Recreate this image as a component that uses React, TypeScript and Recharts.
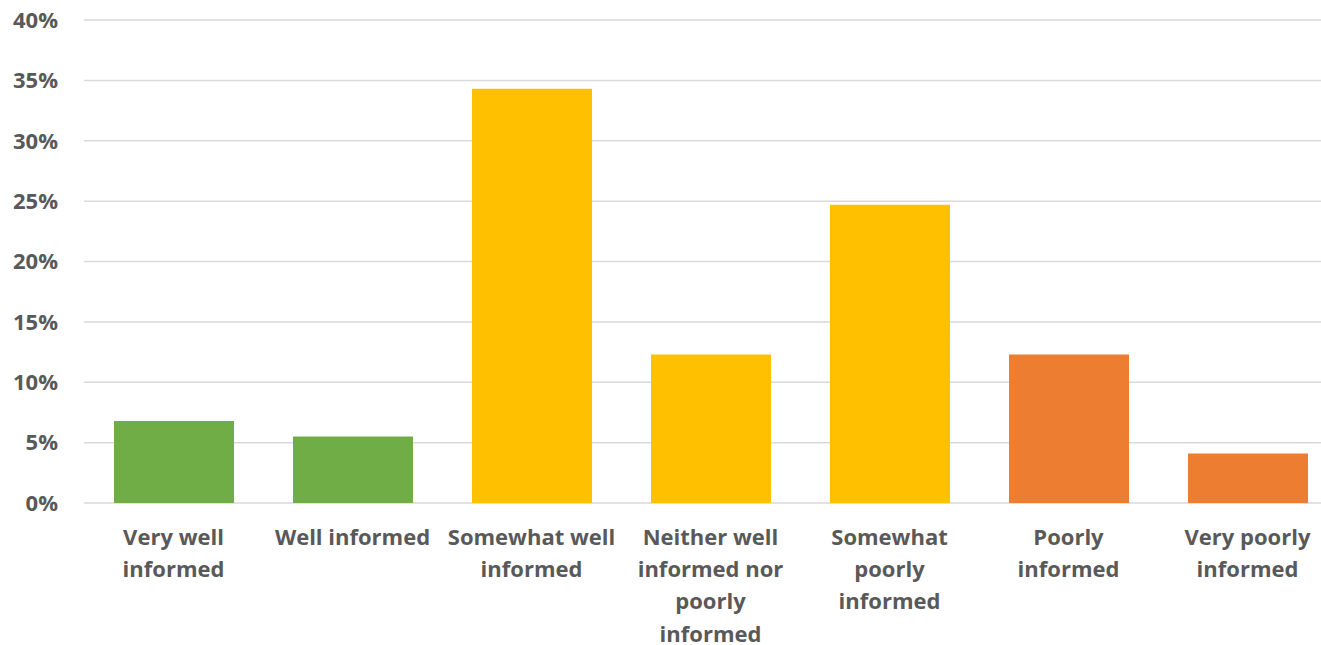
import { Bar, BarChart, CartesianGrid, Cell, XAxis, YAxis } from 'recharts';

const CATEGORIES = [
  'Very well informed',
  'Well informed',
  'Somewhat well informed',
  'Neither well informed nor poorly informed',
  'Somewhat poorly informed',
  'Poorly informed',
  'Very poorly informed'
];

// how Excel wrapped each label
const LABEL_LINES = [
  ['Very well', 'informed'],
  ['Well informed'],
  ['Somewhat well', 'informed'],
  ['Neither well', 'informed nor', 'poorly', 'informed'],
  ['Somewhat', 'poorly', 'informed'],
  ['Poorly', 'informed'],
  ['Very poorly', 'informed']
];

const SHARES = [0.068, 0.055, 0.343, 0.123, 0.247, 0.123, 0.041];

const BAR_COLORS = ['#70AD47', '#70AD47', '#FFC000', '#FFC000', '#FFC000', '#ED7D31', '#ED7D31'];

const Y_TICKS = [0, 0.05, 0.1, 0.15, 0.2, 0.25, 0.3, 0.35, 0.4];

const FONT = '"Open Sans", Lato, sans-serif';
const TEXT_COLOR = '#595959';

const data = CATEGORIES.map((name, i) => ({ name, share: SHARES[i] }));

function formatPercent(value: number) {
  return `${Math.round(value * 100)}%`;
}

function CategoryTick(props: any) {
  const { x, y, index } = props;
  const lines = LABEL_LINES[index] || [];
  return (
    <text
      x={x}
      y={y}
      textAnchor="middle"
      fill={TEXT_COLOR}
      fontFamily={FONT}
      fontWeight="bold"
      fontSize={22}
    >
      {lines.map((line, i) => (
        <tspan key={i} x={x} dy={i === 0 ? 42 : 32.2}>
          {line}
        </tspan>
      ))}
    </text>
  );
}

export default function App() {
  return (
    <div
      style={{
        position: 'absolute',
        top: 0,
        left: 0,
        width: 1321,
        height: 645,
        overflow: 'hidden',
        background: '#fff'
      }}
    >
      <BarChart
        width={1337}
        height={645}
        data={data}
        margin={{ top: 20, right: 0, left: 0, bottom: 0 }}
      >
        <CartesianGrid vertical={false} stroke="#D9D9D9" strokeWidth={1.5} />
        <XAxis
          dataKey="name"
          axisLine={false}
          tickLine={false}
          interval={0}
          height={142}
          tickMargin={0}
          tickSize={0}
          tick={<CategoryTick />}
        />
        <YAxis
          width={84}
          domain={[0, 0.4]}
          ticks={Y_TICKS}
          tickFormatter={formatPercent}
          axisLine={false}
          tickLine={false}
          tickSize={0}
          tickMargin={26}
          tick={{ fill: TEXT_COLOR, fontFamily: FONT, fontWeight: 'bold', fontSize: 22 }}
        />
        <Bar dataKey="share" barSize={120} isAnimationActive={false}>
          {data.map((entry, i) => (
            <Cell key={entry.name} fill={BAR_COLORS[i]} />
          ))}
        </Bar>
      </BarChart>
    </div>
  );
}
